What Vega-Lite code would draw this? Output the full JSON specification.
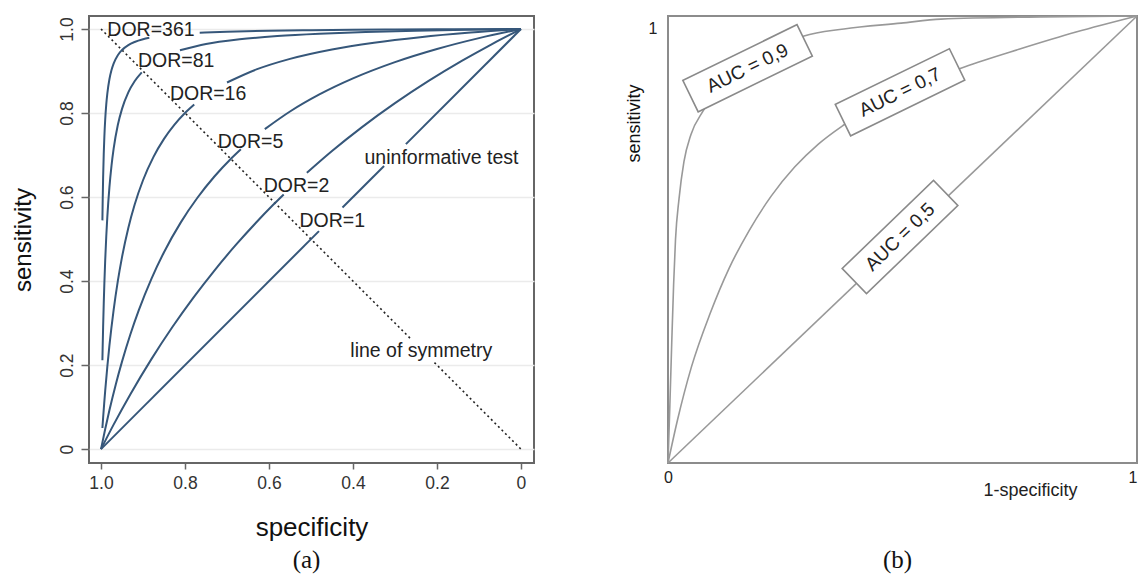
{
  "$schema": "https://vega.github.io/schema/vega-lite/v6.json",
  "background": "white",
  "padding": {"left": 10, "top": 11, "right": 0, "bottom": 0},
  "bounds": "flush",
  "spacing": 134,
  "config": {
    "font": "Liberation Sans",
    "axis": {"labelFont": "Liberation Sans", "titleFont": "Liberation Sans", "titleFontWeight": "normal"}
  },
  "datasets": {
    "rocL": [
      {"c": "361", "seg": 1, "spec": 0.9967, "sens": 0.5445},
      {"c": "361", "seg": 1, "spec": 0.996, "sens": 0.5918},
      {"c": "361", "seg": 1, "spec": 0.995, "sens": 0.6446},
      {"c": "361", "seg": 1, "spec": 0.9935, "sens": 0.7025},
      {"c": "361", "seg": 1, "spec": 0.992, "sens": 0.7443},
      {"c": "361", "seg": 1, "spec": 0.99, "sens": 0.7848},
      {"c": "361", "seg": 1, "spec": 0.9875, "sens": 0.8205},
      {"c": "361", "seg": 1, "spec": 0.985, "sens": 0.8461},
      {"c": "361", "seg": 1, "spec": 0.98, "sens": 0.8805},
      {"c": "361", "seg": 1, "spec": 0.975, "sens": 0.9025},
      {"c": "361", "seg": 1, "spec": 0.97, "sens": 0.9178},
      {"c": "361", "seg": 1, "spec": 0.96, "sens": 0.9377},
      {"c": "361", "seg": 1, "spec": 0.95, "sens": 0.95},
      {"c": "361", "seg": 1, "spec": 0.935, "sens": 0.9617},
      {"c": "361", "seg": 1, "spec": 0.92, "sens": 0.9691},
      {"c": "361", "seg": 1, "spec": 0.9, "sens": 0.9757},
      {"c": "361", "seg": 1, "spec": 0.885, "sens": 0.9791},
      {"c": "361", "seg": 2, "spec": 0.765, "sens": 0.9911},
      {"c": "361", "seg": 2, "spec": 0.7, "sens": 0.9936},
      {"c": "361", "seg": 2, "spec": 0.6, "sens": 0.9959},
      {"c": "361", "seg": 2, "spec": 0.5, "sens": 0.9972},
      {"c": "361", "seg": 2, "spec": 0.4, "sens": 0.9982},
      {"c": "361", "seg": 2, "spec": 0.3, "sens": 0.9988},
      {"c": "361", "seg": 2, "spec": 0.2, "sens": 0.9993},
      {"c": "361", "seg": 2, "spec": 0.1, "sens": 0.9997},
      {"c": "361", "seg": 2, "spec": 0, "sens": 1},
      {"c": "81", "seg": 1, "spec": 0.9967, "sens": 0.2115},
      {"c": "81", "seg": 1, "spec": 0.996, "sens": 0.2455},
      {"c": "81", "seg": 1, "spec": 0.995, "sens": 0.2893},
      {"c": "81", "seg": 1, "spec": 0.9935, "sens": 0.3464},
      {"c": "81", "seg": 1, "spec": 0.992, "sens": 0.3951},
      {"c": "81", "seg": 1, "spec": 0.99, "sens": 0.45},
      {"c": "81", "seg": 1, "spec": 0.9875, "sens": 0.5063},
      {"c": "81", "seg": 1, "spec": 0.985, "sens": 0.5523},
      {"c": "81", "seg": 1, "spec": 0.98, "sens": 0.6231},
      {"c": "81", "seg": 1, "spec": 0.975, "sens": 0.675},
      {"c": "81", "seg": 1, "spec": 0.97, "sens": 0.7147},
      {"c": "81", "seg": 1, "spec": 0.96, "sens": 0.7714},
      {"c": "81", "seg": 1, "spec": 0.95, "sens": 0.81},
      {"c": "81", "seg": 1, "spec": 0.935, "sens": 0.8492},
      {"c": "81", "seg": 1, "spec": 0.92, "sens": 0.8757},
      {"c": "81", "seg": 1, "spec": 0.903, "sens": 0.8969},
      {"c": "81", "seg": 2, "spec": 0.812, "sens": 0.9494},
      {"c": "81", "seg": 2, "spec": 0.75, "sens": 0.9643},
      {"c": "81", "seg": 2, "spec": 0.67, "sens": 0.9755},
      {"c": "81", "seg": 2, "spec": 0.58, "sens": 0.9832},
      {"c": "81", "seg": 2, "spec": 0.48, "sens": 0.9887},
      {"c": "81", "seg": 2, "spec": 0.37, "sens": 0.9928},
      {"c": "81", "seg": 2, "spec": 0.25, "sens": 0.9959},
      {"c": "81", "seg": 2, "spec": 0.13, "sens": 0.9982},
      {"c": "81", "seg": 2, "spec": 0, "sens": 1},
      {"c": "16", "seg": 1, "spec": 0.9967, "sens": 0.0503},
      {"c": "16", "seg": 1, "spec": 0.995, "sens": 0.0744},
      {"c": "16", "seg": 1, "spec": 0.9925, "sens": 0.1079},
      {"c": "16", "seg": 1, "spec": 0.99, "sens": 0.1391},
      {"c": "16", "seg": 1, "spec": 0.985, "sens": 0.1959},
      {"c": "16", "seg": 1, "spec": 0.98, "sens": 0.2462},
      {"c": "16", "seg": 1, "spec": 0.97, "sens": 0.331},
      {"c": "16", "seg": 1, "spec": 0.96, "sens": 0.4},
      {"c": "16", "seg": 1, "spec": 0.95, "sens": 0.4571},
      {"c": "16", "seg": 1, "spec": 0.935, "sens": 0.5266},
      {"c": "16", "seg": 1, "spec": 0.92, "sens": 0.5818},
      {"c": "16", "seg": 1, "spec": 0.9, "sens": 0.64},
      {"c": "16", "seg": 1, "spec": 0.875, "sens": 0.6957},
      {"c": "16", "seg": 1, "spec": 0.85, "sens": 0.7385},
      {"c": "16", "seg": 1, "spec": 0.825, "sens": 0.7724},
      {"c": "16", "seg": 1, "spec": 0.8, "sens": 0.8},
      {"c": "16", "seg": 1, "spec": 0.778, "sens": 0.8203},
      {"c": "16", "seg": 2, "spec": 0.7, "sens": 0.8727},
      {"c": "16", "seg": 2, "spec": 0.63, "sens": 0.9038},
      {"c": "16", "seg": 2, "spec": 0.55, "sens": 0.929},
      {"c": "16", "seg": 2, "spec": 0.45, "sens": 0.9514},
      {"c": "16", "seg": 2, "spec": 0.35, "sens": 0.9674},
      {"c": "16", "seg": 2, "spec": 0.24, "sens": 0.9806},
      {"c": "16", "seg": 2, "spec": 0.12, "sens": 0.9915},
      {"c": "16", "seg": 2, "spec": 0, "sens": 1},
      {"c": "5", "seg": 1, "spec": 1, "sens": 0},
      {"c": "5", "seg": 1, "spec": 0.99, "sens": 0.0481},
      {"c": "5", "seg": 1, "spec": 0.98, "sens": 0.0926},
      {"c": "5", "seg": 1, "spec": 0.965, "sens": 0.1535},
      {"c": "5", "seg": 1, "spec": 0.95, "sens": 0.2083},
      {"c": "5", "seg": 1, "spec": 0.93, "sens": 0.2734},
      {"c": "5", "seg": 1, "spec": 0.91, "sens": 0.3309},
      {"c": "5", "seg": 1, "spec": 0.88, "sens": 0.4054},
      {"c": "5", "seg": 1, "spec": 0.85, "sens": 0.4688},
      {"c": "5", "seg": 1, "spec": 0.81, "sens": 0.5398},
      {"c": "5", "seg": 1, "spec": 0.77, "sens": 0.599},
      {"c": "5", "seg": 1, "spec": 0.73, "sens": 0.649},
      {"c": "5", "seg": 1, "spec": 0.69, "sens": 0.692},
      {"c": "5", "seg": 1, "spec": 0.667, "sens": 0.714},
      {"c": "5", "seg": 2, "spec": 0.61, "sens": 0.7617},
      {"c": "5", "seg": 2, "spec": 0.55, "sens": 0.8036},
      {"c": "5", "seg": 2, "spec": 0.48, "sens": 0.8442},
      {"c": "5", "seg": 2, "spec": 0.4, "sens": 0.8824},
      {"c": "5", "seg": 2, "spec": 0.3, "sens": 0.9211},
      {"c": "5", "seg": 2, "spec": 0.2, "sens": 0.9524},
      {"c": "5", "seg": 2, "spec": 0.1, "sens": 0.9783},
      {"c": "5", "seg": 2, "spec": 0, "sens": 1},
      {"c": "2", "seg": 1, "spec": 1, "sens": 0},
      {"c": "2", "seg": 1, "spec": 0.97, "sens": 0.0583},
      {"c": "2", "seg": 1, "spec": 0.93, "sens": 0.1308},
      {"c": "2", "seg": 1, "spec": 0.88, "sens": 0.2143},
      {"c": "2", "seg": 1, "spec": 0.83, "sens": 0.2906},
      {"c": "2", "seg": 1, "spec": 0.78, "sens": 0.3607},
      {"c": "2", "seg": 1, "spec": 0.73, "sens": 0.4252},
      {"c": "2", "seg": 1, "spec": 0.68, "sens": 0.4848},
      {"c": "2", "seg": 1, "spec": 0.63, "sens": 0.5401},
      {"c": "2", "seg": 1, "spec": 0.59, "sens": 0.5816},
      {"c": "2", "seg": 1, "spec": 0.565, "sens": 0.6063},
      {"c": "2", "seg": 2, "spec": 0.51, "sens": 0.6577},
      {"c": "2", "seg": 2, "spec": 0.45, "sens": 0.7097},
      {"c": "2", "seg": 2, "spec": 0.38, "sens": 0.7654},
      {"c": "2", "seg": 2, "spec": 0.3, "sens": 0.8235},
      {"c": "2", "seg": 2, "spec": 0.22, "sens": 0.8764},
      {"c": "2", "seg": 2, "spec": 0.14, "sens": 0.9247},
      {"c": "2", "seg": 2, "spec": 0.07, "sens": 0.9637},
      {"c": "2", "seg": 2, "spec": 0, "sens": 1},
      {"c": "1", "seg": 1, "spec": 1, "sens": 0},
      {"c": "1", "seg": 1, "spec": 0.481, "sens": 0.519},
      {"c": "1", "seg": 2, "spec": 0.425, "sens": 0.575},
      {"c": "1", "seg": 2, "spec": 0.326, "sens": 0.674},
      {"c": "1", "seg": 3, "spec": 0.274, "sens": 0.726},
      {"c": "1", "seg": 3, "spec": 0, "sens": 1}
    ],
    "sym": [
      {"seg": 1, "spec": 1, "sens": 1},
      {"seg": 1, "spec": 0.262, "sens": 0.262},
      {"seg": 2, "spec": 0.206, "sens": 0.206},
      {"seg": 2, "spec": 0, "sens": 0}
    ],
    "labelsL": [
      {"t": "DOR=361", "spec": 0.881, "sens": 0.9988},
      {"t": "DOR=81", "spec": 0.821, "sens": 0.924},
      {"t": "DOR=16", "spec": 0.745, "sens": 0.8455},
      {"t": "DOR=5", "spec": 0.644, "sens": 0.7317},
      {"t": "DOR=2", "spec": 0.5345, "sens": 0.6274},
      {"t": "DOR=1", "spec": 0.4493, "sens": 0.544},
      {"t": "uninformative test", "spec": 0.1893, "sens": 0.694},
      {"t": "line of symmetry", "spec": 0.2374, "sens": 0.2326}
    ],
    "rocR": [
      {"auc": "0.9", "fpr": 0, "tpr": 0},
      {"auc": "0.9", "fpr": 0.004, "tpr": 0.13},
      {"auc": "0.9", "fpr": 0.008, "tpr": 0.27},
      {"auc": "0.9", "fpr": 0.012, "tpr": 0.4},
      {"auc": "0.9", "fpr": 0.016, "tpr": 0.5},
      {"auc": "0.9", "fpr": 0.0235, "tpr": 0.591},
      {"auc": "0.9", "fpr": 0.034, "tpr": 0.674},
      {"auc": "0.9", "fpr": 0.049, "tpr": 0.735},
      {"auc": "0.9", "fpr": 0.0746, "tpr": 0.787},
      {"auc": "0.9", "fpr": 0.177, "tpr": 0.888},
      {"auc": "0.9", "fpr": 0.29, "tpr": 0.955},
      {"auc": "0.9", "fpr": 0.375, "tpr": 0.971},
      {"auc": "0.9", "fpr": 0.497, "tpr": 0.984},
      {"auc": "0.9", "fpr": 0.582, "tpr": 0.993},
      {"auc": "0.9", "fpr": 0.795, "tpr": 0.998},
      {"auc": "0.9", "fpr": 1, "tpr": 1},
      {"auc": "0.7", "fpr": 0, "tpr": 0},
      {"auc": "0.7", "fpr": 0.02, "tpr": 0.095},
      {"auc": "0.7", "fpr": 0.05, "tpr": 0.215},
      {"auc": "0.7", "fpr": 0.09, "tpr": 0.335},
      {"auc": "0.7", "fpr": 0.13, "tpr": 0.435},
      {"auc": "0.7", "fpr": 0.173, "tpr": 0.52},
      {"auc": "0.7", "fpr": 0.22, "tpr": 0.597},
      {"auc": "0.7", "fpr": 0.27, "tpr": 0.662},
      {"auc": "0.7", "fpr": 0.32, "tpr": 0.713},
      {"auc": "0.7", "fpr": 0.373, "tpr": 0.755},
      {"auc": "0.7", "fpr": 0.45, "tpr": 0.805},
      {"auc": "0.7", "fpr": 0.53, "tpr": 0.845},
      {"auc": "0.7", "fpr": 0.632, "tpr": 0.886},
      {"auc": "0.7", "fpr": 0.75, "tpr": 0.926},
      {"auc": "0.7", "fpr": 0.87, "tpr": 0.964},
      {"auc": "0.7", "fpr": 1, "tpr": 1},
      {"auc": "0.5", "fpr": 0, "tpr": 0},
      {"auc": "0.5", "fpr": 1, "tpr": 1}
    ],
    "boxes": [
      {"t": "AUC = 0,9", "fpr": 0.1697, "tpr": 0.8831},
      {"t": "AUC = 0,7", "fpr": 0.4947, "tpr": 0.8292},
      {"t": "AUC = 0,5", "fpr": 0.4947, "tpr": 0.5056}
    ]
  },
  "hconcat": [
    {
      "width": 445,
      "height": 447,
      "view": {"stroke": "#666666", "strokeWidth": 2},
      "title": {"text": "(a)", "orient": "bottom", "font": "Liberation Serif", "fontSize": 25, "fontWeight": "normal", "color": "#111111", "offset": 7, "dx": -5},
      "encoding": {
        "x": {
          "field": "spec", "type": "quantitative",
          "scale": {"domain": [-0.031, 1.0286], "reverse": true, "nice": false, "zero": false},
          "axis": {
            "values": [0, 0.2, 0.4, 0.6, 0.8, 1],
            "labelExpr": "datum.value == 0 ? '0' : format(datum.value, '.1f')",
            "title": "specificity", "titleFontSize": 26, "titlePadding": 23, "titleColor": "#111111",
            "labelFontSize": 17.5, "labelColor": "#333333", "labelPadding": 5, "labelFlush": false, "labelOverlap": false,
            "tickSize": 6, "tickColor": "#666666", "tickWidth": 1.5,
            "domain": false, "grid": false
          }
        },
        "y": {
          "field": "sens", "type": "quantitative",
          "scale": {"domain": [-0.033, 1.031], "nice": false, "zero": false},
          "axis": {
            "values": [0, 0.2, 0.4, 0.6, 0.8, 1],
            "labelExpr": "datum.value == 0 ? '0' : format(datum.value, '.1f')",
            "title": "sensitivity", "titleFontSize": 24, "titlePadding": 23, "titleColor": "#111111",
            "labelFontSize": 17.5, "labelColor": "#333333", "labelPadding": 5, "labelAngle": -90, "labelAlign": "center", "labelBaseline": "bottom", "labelFlush": false, "labelOverlap": false,
            "tickSize": 8, "tickColor": "#666666", "tickWidth": 1.5,
            "domain": false, "grid": true, "gridColor": "#ebebeb", "gridWidth": 1.5
          }
        }
      },
      "layer": [
        {
          "data": {"name": "sym"},
          "mark": {"type": "line", "strokeDash": [2, 3], "color": "#222222", "strokeWidth": 1.6},
          "encoding": {"detail": {"field": "seg"}}
        },
        {
          "data": {"name": "rocL"},
          "mark": {"type": "line", "interpolate": "monotone", "color": "#36577a", "strokeWidth": 2},
          "encoding": {
            "detail": [{"field": "c"}, {"field": "seg"}],
            "order": {"field": "spec", "sort": "descending"}
          }
        },
        {
          "data": {"name": "labelsL"},
          "mark": {"type": "text", "fontSize": 19.5, "color": "#222222", "align": "center", "baseline": "middle"},
          "encoding": {"text": {"field": "t"}}
        }
      ]
    },
    {
      "width": 469,
      "height": 447,
      "view": {"stroke": "#8c8c8c", "strokeWidth": 2},
      "title": {"text": "(b)", "orient": "bottom", "font": "Liberation Serif", "fontSize": 25, "fontWeight": "normal", "color": "#111111", "offset": 49, "dx": -5},
      "encoding": {
        "x": {
          "field": "fpr", "type": "quantitative",
          "scale": {"domain": [0, 1], "nice": false},
          "axis": {
            "values": [0, 1], "format": "d", "ticks": false, "domain": false, "grid": false,
            "labelFontSize": 16, "labelPadding": 6, "labelColor": "#222222", "labelFlush": false,
            "labelAlign": {"condition": {"test": "datum.value == 1", "value": "right"}, "value": "center"},
            "title": "1-specificity", "titleFontSize": 18, "titleX": 362, "titleY": 27, "titleAlign": "center", "titleBaseline": "middle", "titleColor": "#222222"
          }
        },
        "y": {
          "field": "tpr", "type": "quantitative",
          "scale": {"domain": [0, 1], "nice": false},
          "axis": {
            "values": [1], "format": "d", "ticks": false, "domain": false, "grid": false,
            "labelFontSize": 16, "labelPadding": 11, "labelColor": "#222222", "labelBaseline": "top", "labelOffset": 4, "labelFlush": false,
            "title": "sensitivity", "titleFontSize": 18, "titleX": -34, "titleY": 107, "titleAngle": -90, "titleAlign": "center", "titleBaseline": "middle", "titleColor": "#111111"
          }
        }
      },
      "layer": [
        {
          "data": {"name": "rocR"},
          "mark": {"type": "line", "interpolate": "monotone", "color": "#999999", "strokeWidth": 1.6},
          "encoding": {"detail": {"field": "auc"}, "order": {"field": "fpr"}}
        },
        {
          "data": {"name": "boxes"},
          "transform": [{"filter": "datum.t != 'AUC = 0,5'"}],
          "layer": [
            {
              "mark": {"type": "point", "shape": "M-1,-0.2756L1,-0.2756L1,0.2756L-1,0.2756Z", "size": 16129, "angle": -26, "fill": "white", "fillOpacity": 1, "opacity": 1, "stroke": "#8a8a8a", "strokeWidth": 1.6}
            },
            {
              "mark": {"type": "text", "fontSize": 19, "angle": -26, "color": "#222222", "align": "center", "baseline": "middle"},
              "encoding": {"text": {"field": "t"}}
            }
          ]
        },
        {
          "data": {"name": "boxes"},
          "transform": [{"filter": "datum.t == 'AUC = 0,5'"}],
          "layer": [
            {
              "mark": {"type": "point", "shape": "M-1,-0.2756L1,-0.2756L1,0.2756L-1,0.2756Z", "size": 16129, "angle": -44, "fill": "white", "fillOpacity": 1, "opacity": 1, "stroke": "#8a8a8a", "strokeWidth": 1.6}
            },
            {
              "mark": {"type": "text", "fontSize": 19, "angle": -44, "color": "#222222", "align": "center", "baseline": "middle"},
              "encoding": {"text": {"field": "t"}}
            }
          ]
        }
      ]
    }
  ]
}
